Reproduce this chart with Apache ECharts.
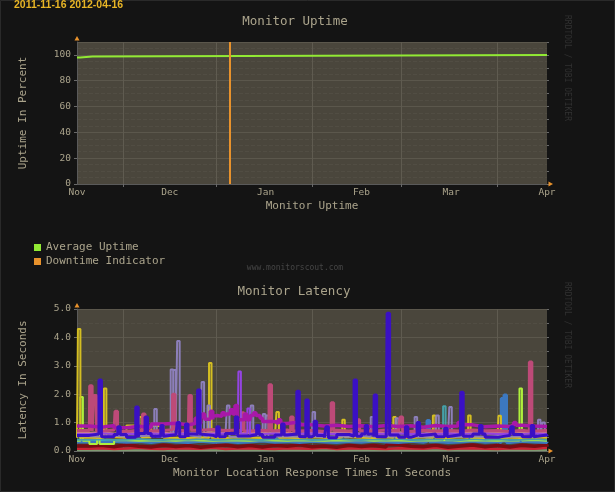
<!DOCTYPE html>
<html lang="en">
<head>
    <meta charset="utf-8">
    <title>Monitor Uptime / Monitor Latency</title>
    <script src="https://cdn.jsdelivr.net/npm/echarts@6/dist/echarts.min.js"></script>
    <style>
        html, body {margin: 0; padding: 0; background: #141414;}
        #chart {width: 615px; height: 492px;}
    </style>
</head>
<body>
<div id="chart"></div>
<script>
    // x axis is in days counted from 2011-11-01
    let monthDays = [0, 30, 61, 92, 121, 152];
    let monthNames = ['Nov', 'Dec', 'Jan', 'Feb', 'Mar', 'Apr'];
    let gridDays = [15, 45, 76, 105, 136];

    // Monitor Uptime
    let uptimeDays = [0, 1, 5, 152];
    let uptimeValues = [98, 98.8, 100, 100];
    let downtimeDays = [49.5];

    // Monitor Latency: one level every 4 days, plus spikes [day, seconds]
    let sampleDays = [0, 4, 8, 12, 16, 20, 24, 28, 32, 36, 40, 44, 48, 52, 56, 60, 64, 68, 72, 76,
        80, 84, 88, 92, 96, 100, 104, 108, 112, 116, 120, 124, 128, 132, 136, 140, 144, 148, 152];

    let grayGreen = [0.03, 0.03, 0.03, 0.03, 0.03, 0.03, 0.03, 0.03, 0.03, 0.03, 0.03, 0.03, 0.03, 0.03, 0.03, 0.03, 0.03, 0.03, 0.03, 0.03,
        0.03, 0.03, 0.03, 0.03, 0.03, 0.03, 0.03, 0.03, 0.03, 0.03, 0.03, 0.03, 0.03, 0.03, 0.03, 0.03, 0.03, 0.03, 0.03];
    let red = [0.08, 0.1, 0.07, 0.09, 0.11, 0.08, 0.07, 0.1, 0.09, 0.08, 0.11, 0.07, 0.09, 0.1, 0.08, 0.07, 0.1, 0.09, 0.08, 0.11,
        0.07, 0.09, 0.1, 0.08, 0.07, 0.1, 0.09, 0.08, 0.11, 0.07, 0.09, 0.1, 0.08, 0.07, 0.1, 0.09, 0.08, 0.11, 0.09];
    let darkRed = [0.18, 0.2, 0.15, 0.22, 0.17, 0.14, 0.2, 0.16, 0.19, 0.13, 0.18, 0.21, 0.15, 0.19, 0.14, 0.2, 0.17, 0.22, 0.15, 0.18,
        0.13, 0.2, 0.16, 0.19, 0.14, 0.22, 0.17, 0.15, 0.2, 0.13, 0.18, 0.21, 0.15, 0.19, 0.14, 0.2, 0.17, 0.22, 0.15];
    let cyan = [0.36, 0.37, 0.35, 0.36, 0.38, 0.35, 0.36, 0.37, 0.35, 0.36, 0.38, 0.36, 0.35, 0.37, 0.36, 0.35, 0.37, 0.36, 0.38, 0.35,
        0.36, 0.37, 0.35, 0.36, 0.38, 0.36, 0.35, 0.37, 0.36, 0.35, 0.37, 0.36, 0.38, 0.35, 0.36, 0.37, 0.35, 0.36, 0.37];
    let steelBlue = [0.32, 0.3, 0.34, 0.31, 0.33, 0.3, 0.35, 0.32, 0.3, 0.34, 0.31, 0.33, 0.3, 0.32, 0.35, 0.31, 0.33, 0.3, 0.34, 0.32,
        0.3, 0.33, 0.31, 0.35, 0.32, 0.3, 0.34, 0.31, 0.33, 0.3, 0.32, 0.35, 0.31, 0.33, 0.3, 0.34, 0.32, 0.3, 0.33];
    let lightGreen = [0.36, 0.25, 0.25, 0.38, 0.36, 0.37, 0.38, 0.36, 0.39, 0.37, 0.36, 0.38, 0.37, 0.36, 0.39, 0.37, 0.36, 0.38, 0.37, 0.36,
        0.38, 0.37, 0.39, 0.36, 0.38, 0.37, 0.36, 0.38, 0.37, 0.39, 0.36, 0.38, 0.37, 0.36, 0.38, 0.37, 0.39, 0.36, 0.38];
    let teal = [0.4, 0.41, 0.39, 0.4, 0.42, 0.4, 0.39, 0.41, 0.4, 0.42, 0.39, 0.4, 0.41, 0.4, 0.39, 0.42, 0.4, 0.41, 0.39, 0.4,
        0.42, 0.4, 0.39, 0.41, 0.4, 0.42, 0.39, 0.4, 0.41, 0.4, 0.39, 0.42, 0.4, 0.41, 0.39, 0.4, 0.42, 0.4, 0.41];
    let yellow = [0.47, 0.46, 0.48, 0.47, 0.9, 0.48, 0.88, 0.47, 0.46, 0.48, 0.47, 0.46, 0.48, 0.47, 0.46, 0.48, 0.47, 0.46, 0.48, 0.47,
        0.46, 0.48, 0.47, 0.46, 0.48, 0.47, 0.46, 0.48, 0.47, 0.46, 0.48, 0.47, 0.46, 0.48, 0.47, 0.46, 0.48, 0.47, 0.46];
    let lavender = [0.52, 0.5, 0.54, 0.5, 0.52, 0.55, 0.5, 0.53, 0.55, 0.5, 0.52, 0.54, 0.5, 0.52, 0.55, 0.5, 0.52, 0.5, 0.53, 0.5,
        0.52, 0.5, 0.54, 0.5, 0.52, 0.5, 0.53, 0.5, 0.52, 0.54, 0.5, 0.52, 0.5, 0.53, 0.5, 0.52, 0.5, 0.54, 0.52];
    let salmon = [0.63, 0.65, 0.61, 0.64, 0.62, 0.66, 0.63, 0.6, 0.64, 0.62, 0.65, 0.63, 0.61, 0.64, 0.62, 0.66, 0.63, 0.61, 0.64, 0.62,
        0.65, 0.63, 0.6, 0.64, 0.62, 0.65, 0.63, 0.61, 0.64, 0.62, 0.63, 0.65, 0.62, 0.64, 0.61, 0.63, 0.65, 0.62, 0.64];
    let pink = [0.72, 0.7, 0.74, 0.69, 0.73, 0.7, 0.72, 0.75, 0.7, 0.73, 0.76, 0.72, 0.74, 0.7, 0.73, 0.71, 0.74, 0.7, 0.72, 0.69,
        0.73, 0.7, 0.72, 0.7, 0.74, 0.71, 0.69, 0.73, 0.7, 0.72, 0.7, 0.74, 0.71, 0.72, 0.69, 0.73, 0.7, 0.72, 0.7];
    let violet = [0.6, 0.62, 0.6, 0.61, 0.6, 0.62, 0.6, 0.61, 0.62, 0.6, 0.61, 0.62, 0.6, 0.61, 0.6, 0.62, 0.6, 0.61, 0.62, 0.6,
        0.61, 0.6, 0.62, 0.6, 0.61, 0.62, 0.6, 0.61, 0.6, 0.62, 0.6, 0.61, 0.62, 0.6, 0.61, 0.6, 0.62, 0.6, 0.61];
    let magenta = [0.88, 0.84, 0.9, 0.82, 0.87, 0.83, 0.95, 0.98, 0.92, 0.97, 1.12, 1.22, 1.3, 1.1, 1.25, 1.04, 0.97, 1.02, 0.92, 0.88,
        0.91, 0.86, 0.89, 0.85, 0.9, 0.86, 0.89, 0.84, 0.9, 0.86, 0.88, 0.92, 0.85, 0.88, 0.86, 0.91, 0.88, 0.86, 0.88];
    let indigo = [0.55, 0.6, 0.5, 0.58, 0.48, 0.62, 0.52, 0.57, 0.5, 0.6, 0.55, 0.5, 0.62, 0.53, 0.58, 0.48, 0.56, 0.6, 0.5, 0.55,
        0.47, 0.58, 0.52, 0.6, 0.5, 0.56, 0.48, 0.55, 0.6, 0.5, 0.57, 0.52, 0.6, 0.48, 0.55, 0.58, 0.5, 0.56, 0.52];

    let yellowSpikes = [[0.3, 4.3], [8.7, 2.2], [20.1, 1.2], [42.7, 3.1], [64.5, 1.37], [85.8, 1.1], [102.3, 1.2],
        [115.1, 1.25], [126.5, 1.25], [136.3, 1.24]];
    let lightGreenSpikes = [[1.1, 1.9], [6.5, 1.3], [143.1, 2.2]];
    let pinkSpikes = [[4.1, 2.3], [5.5, 1.95], [12.3, 1.4], [21.2, 1.3], [30.9, 2.0], [36.2, 1.95], [53.2, 1.35],
        [62.1, 2.33], [69.1, 1.2], [82.2, 1.7], [90.6, 1.1], [104.5, 1.2], [146.3, 3.13]];
    let indigoSpikes = [[7.1, 2.5], [13.2, 0.85], [19, 1.55], [22, 1.2], [27.1, 0.9], [32.4, 1.0], [35.1, 0.95],
        [39, 2.15], [45.2, 0.85], [51.2, 1.2], [58.1, 0.9], [66.2, 0.95], [71.1, 2.1], [74, 1.8], [76.7, 1.05],
        [80.5, 0.85], [89.6, 2.5], [93.2, 0.9], [96.1, 1.97], [100.3, 4.85], [106.2, 0.85], [110, 1.0],
        [118.9, 0.8], [124.1, 2.07], [130.2, 0.9], [140.3, 0.85], [146.9, 0.9]];
    let lavenderSpikes = [[25, 1.48], [30.3, 2.87], [31.1, 2.85], [32.4, 3.87], [40.3, 2.43], [42.2, 1.6], [48.5, 1.6],
        [56.2, 1.6], [60.1, 1.3], [61.1, 1.25], [76.2, 1.37], [95, 1.2], [103.1, 1.15], [109.2, 1.2], [116.2, 1.25],
        [120.4, 1.55], [149.1, 1.1], [150.5, 1.0]];
    let tealSpikes = [[118.4, 1.58]];
    let steelBlueSpikes = [[113.2, 1.07], [137.2, 1.85], [138.1, 1.97]];
    let violetSpikes = [[52.2, 2.8], [55.1, 1.5]];
    let magentaSpikes = [[38.2, 1.15], [40.5, 1.3], [43.1, 1.4], [44.6, 1.25], [46.9, 1.35], [49.6, 1.45], [51.1, 1.6],
        [54.1, 1.3], [57.1, 1.35], [59.2, 1.15], [65.1, 1.1], [123.2, 1.0], [141.2, 1.0]];

    let mono = '"DejaVu Sans Mono", monospace';
    let textColor = '#aba48c';

    // step line through the 4-day levels, each spike held for 0.8 day
    function buildLine(base, spikes) {
        let pts = [];
        for (let i = 0; i < sampleDays.length; i++) {
            pts.push([sampleDays[i], base[i]]);
        }
        spikes.forEach(function (s) {
            let k = 0;
            while (k + 1 < sampleDays.length && sampleDays[k + 1] <= s[0] + 0.8) k++;
            pts.push([s[0], s[1]]);
            pts.push([s[0] + 0.8, base[k]]);
        });
        pts.sort(function (a, b) {
            return a[0] - b[0];
        });
        return pts;
    }

    let latencySeries = [
        {name: 'l1', color: '#7f9a72', width: 2, base: grayGreen, spikes: []},
        {name: 'l2', color: '#cc2233', width: 2.5, base: red, spikes: []},
        {name: 'l3', color: '#7a0c12', width: 3.5, base: darkRed, spikes: []},
        {name: 'l4', color: '#2ab4d6', width: 2, base: cyan, spikes: []},
        {name: 'l5', color: '#3c78c0', width: 3, base: steelBlue, spikes: steelBlueSpikes},
        {name: 'l6', color: '#aef03c', width: 2, base: lightGreen, spikes: lightGreenSpikes},
        {name: 'l7', color: '#45a0a8', width: 2, base: teal, spikes: tealSpikes},
        {name: 'l8', color: '#d4be22', width: 2, base: yellow, spikes: yellowSpikes},
        {name: 'l9', color: '#8c7fba', width: 2, base: lavender, spikes: lavenderSpikes},
        {name: 'l10', color: '#c87c86', width: 2.5, base: salmon, spikes: []},
        {name: 'l11', color: '#bd4a78', width: 3, base: pink, spikes: pinkSpikes},
        {name: 'l12', color: '#9444e2', width: 2, base: violet, spikes: violetSpikes},
        {name: 'l13', color: '#a818a8', width: 3.5, base: magenta, spikes: magentaSpikes},
        {name: 'l14', color: '#3a10c4', width: 3, base: indigo, spikes: indigoSpikes}
    ];

    function xAxisFor(gi, name) {
        return {
            type: 'value', gridIndex: gi, min: 0, max: 152,
            name: name, nameLocation: 'middle', nameGap: 17,
            nameTextStyle: {color: textColor, fontFamily: mono, fontSize: 11},
            axisLine: {lineStyle: {color: '#5a5a5a'}},
            axisTick: {customValues: gridDays, length: 3, lineStyle: {color: '#6a6a6a'}},
            axisLabel: {
                customValues: monthDays, margin: 4, color: textColor, fontFamily: mono, fontSize: 9.5,
                formatter: function (v) {
                    return monthNames[monthDays.indexOf(v)];
                }
            },
            splitLine: {show: true, lineStyle: {color: '#5f5b50', width: 1}}
        };
    }

    function yAxisFor(gi, min, max, interval, minorSplit, name, fmt) {
        return {
            type: 'value', gridIndex: gi, min: min, max: max, interval: interval,
            name: name, nameLocation: 'middle', nameGap: 48,
            nameTextStyle: {color: textColor, fontFamily: mono, fontSize: 11},
            axisLine: {show: true, lineStyle: {color: '#5a5a5a'}},
            axisTick: {show: true, length: 3, lineStyle: {color: '#6a6a6a'}},
            axisLabel: {margin: 6, color: textColor, fontFamily: mono, fontSize: 9.5, showMaxLabel: max % interval === 0, formatter: fmt},
            splitLine: {show: true, lineStyle: {color: '#5b574c'}},
            minorTick: {show: false, splitNumber: minorSplit},
            minorSplitLine: {show: true, lineStyle: {color: '#514d43', type: 'dashed'}}
        };
    }

    function rightAxisFor(gi, min, max, interval) {
        return {
            type: 'value', gridIndex: gi, position: 'right', min: min, max: max, interval: interval,
            axisLine: {show: false},
            axisTick: {show: true, length: 2, lineStyle: {color: '#6a6a6a'}},
            axisLabel: {show: false},
            splitLine: {show: false}
        };
    }

    let series = [
        {
            name: 'Average Uptime', type: 'line', xAxisIndex: 0, yAxisIndex: 0, step: 'end',
            showSymbol: false, color: '#92ea34', lineStyle: {width: 2},
            data: uptimeDays.map(function (d, i) {
                return [d, uptimeValues[i]];
            })
        },
        {
            name: 'Downtime Indicator', type: 'line', xAxisIndex: 0, yAxisIndex: 0,
            showSymbol: false, color: '#e8922c', data: [],
            markLine: {
                silent: true, symbol: 'none', label: {show: false},
                lineStyle: {color: '#e8922c', width: 2, type: 'solid'},
                data: downtimeDays.map(function (d) {
                    return {xAxis: d};
                })
            }
        }
    ];
    latencySeries.forEach(function (s) {
        series.push({
            name: s.name, type: 'line', xAxisIndex: 1, yAxisIndex: 2, step: 'end',
            showSymbol: false, color: s.color, lineStyle: {width: s.width},
            data: buildLine(s.base, s.spikes)
        });
    });

    let myChart = echarts.init(document.getElementById('chart'));
    let option = {
        animation: false,
        backgroundColor: '#141414',
        grid: [
            {left: 77, top: 42, width: 470, height: 142, show: true, backgroundColor: '#4a463c', borderWidth: 0},
            {left: 77, top: 309, width: 470, height: 142, show: true, backgroundColor: '#4a463c', borderWidth: 0}
        ],
        xAxis: [xAxisFor(0, 'Monitor Uptime'), xAxisFor(1, 'Monitor Location Response Times In Seconds')],
        yAxis: [
            yAxisFor(0, 0, 110, 20, 4, 'Uptime In Percent'),
            rightAxisFor(0, 0, 110, 10),
            yAxisFor(1, 0, 5, 1, 2, 'Latency In Seconds', function (v) {
                return v.toFixed(1);
            }),
            rightAxisFor(1, 0, 5, 0.5)
        ],
        legend: {
            data: ['Average Uptime', 'Downtime Indicator'],
            orient: 'vertical', left: 29, top: 237,
            icon: 'rect', itemWidth: 7, itemHeight: 7, itemGap: 3, itemTextGap: 7,
            selectedMode: false,
            textStyle: {color: textColor, fontFamily: mono, fontSize: 11}
        },
        graphic: [
            {type: 'rect', z: 100, silent: true, shape: {x: 0.5, y: 0.5, width: 614, height: 491},
                style: {fill: 'none', stroke: '#2a2a2a', lineWidth: 1}},
            {type: 'text', z: 100, x: 14, y: 5, style: {text: '2011-11-16 2012-04-16', fill: '#e8b526',
                    font: 'bold 10.5px "Liberation Sans", Arial, sans-serif', verticalAlign: 'middle'}},
            {type: 'text', z: 100, x: 295, y: 22, style: {text: 'Monitor Uptime', fill: textColor,
                    font: '12.5px ' + mono, align: 'center', verticalAlign: 'middle'}},
            {type: 'text', z: 100, x: 294, y: 291.5, style: {text: 'Monitor Latency', fill: textColor,
                    font: '12.5px ' + mono, align: 'center', verticalAlign: 'middle'}},
            {type: 'text', z: 100, x: 295, y: 268, style: {text: 'www.monitorscout.com', fill: '#464646',
                    font: '8px ' + mono, align: 'center', verticalAlign: 'middle'}},
            {type: 'text', z: 100, x: 567, y: 68, rotation: -Math.PI / 2, style: {text: 'RRDTOOL / TOBI OETIKER',
                    fill: '#313131', font: '8px ' + mono, align: 'center', verticalAlign: 'middle'}},
            {type: 'text', z: 100, x: 567, y: 335, rotation: -Math.PI / 2, style: {text: 'RRDTOOL / TOBI OETIKER',
                    fill: '#313131', font: '8px ' + mono, align: 'center', verticalAlign: 'middle'}},
            // axis arrow heads
            {type: 'polygon', z: 100, shape: {points: [[74.5, 40.5], [79.5, 40.5], [77, 36]]}, style: {fill: '#e8922c'}},
            {type: 'polygon', z: 100, shape: {points: [[548.5, 181.5], [548.5, 186.5], [553, 184]]}, style: {fill: '#e8922c'}},
            {type: 'polygon', z: 100, shape: {points: [[74.5, 307.5], [79.5, 307.5], [77, 303]]}, style: {fill: '#e8922c'}},
            {type: 'polygon', z: 100, shape: {points: [[548.5, 448.5], [548.5, 453.5], [553, 451]]}, style: {fill: '#e8922c'}}
        ],
        series: series
    };
    myChart.setOption(option);
</script>
</body>
</html>
